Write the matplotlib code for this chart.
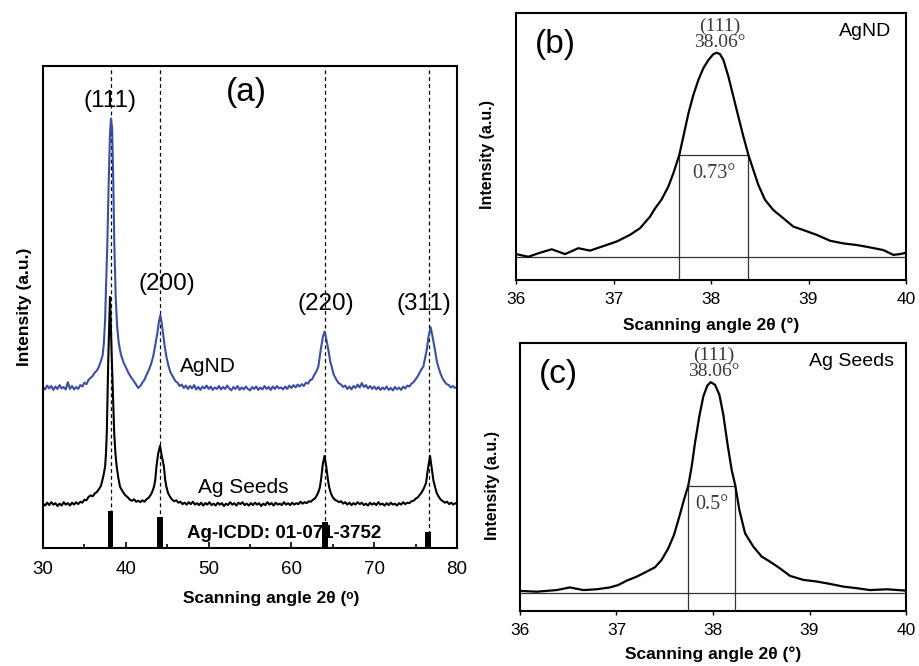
import matplotlib
matplotlib.use("Agg")
import matplotlib.pyplot as plt

plt.rcParams['font.family'] = ['Liberation Sans', 'DejaVu Sans']

# ---------------- Panel (a) data ----------------
agnd_x = [30.0, 30.25, 30.5, 30.75, 31.0, 31.25, 31.5, 31.75, 32.0, 32.25, 32.5, 32.75, 33.0, 33.25,
          33.5, 33.75, 34.0, 34.25, 34.5, 34.75, 35.0, 35.25, 35.5, 35.75, 36.0, 36.25, 36.5, 36.75,
          37.0, 37.2, 37.35, 37.5, 37.61, 37.77, 37.93, 38.09, 38.21, 38.35, 38.49, 38.61, 38.78,
          38.95, 39.15, 39.4, 39.7, 40.0, 40.3, 40.6, 40.9, 41.2, 41.5, 41.75, 42.0, 42.25, 42.5,
          42.75, 43.0, 43.3, 43.55, 43.8, 44.0, 44.17, 44.35, 44.5, 44.7, 44.9, 45.15, 45.4, 45.7,
          46.0, 46.25, 46.5, 46.75, 47.0, 47.25, 47.5, 47.75, 48.0, 48.25, 48.5, 48.75, 49.0, 49.25,
          49.5, 49.75, 50.0, 50.25, 50.5, 50.75, 51.0, 51.25, 51.5, 51.75, 52.0, 52.25, 52.5, 52.75,
          53.0, 53.25, 53.5, 53.75, 54.0, 54.25, 54.5, 54.75, 55.0, 55.25, 55.5, 55.75, 56.0, 56.25,
          56.5, 56.75, 57.0, 57.25, 57.5, 57.75, 58.0, 58.25, 58.5, 58.75, 59.0, 59.25, 59.5, 59.75,
          60.0, 60.25, 60.5, 60.75, 61.0, 61.25, 61.5, 61.75, 62.0, 62.25, 62.5, 62.75, 63.0, 63.25,
          63.54, 63.8, 64.0, 64.2, 64.46, 64.7, 64.87, 65.1, 65.4, 65.7, 66.0, 66.25, 66.5, 66.75,
          67.0, 67.25, 67.5, 67.75, 68.0, 68.25, 68.5, 68.75, 69.0, 69.25, 69.5, 69.75, 70.0, 70.25,
          70.5, 70.75, 71.0, 71.25, 71.5, 71.75, 72.0, 72.25, 72.5, 72.75, 73.0, 73.25, 73.5, 73.75,
          74.0, 74.25, 74.5, 74.75, 75.0, 75.25, 75.5, 75.75, 75.93, 76.15, 76.34, 76.55, 76.82,
          77.05, 77.34, 77.55, 77.74, 78.0, 78.25, 78.5, 78.75, 79.0, 79.25, 79.5, 79.75, 80.0]
agnd_y = [33.4, 32.9, 33.7, 33.1, 33.6, 32.8, 33.5, 33.0, 33.8, 33.1, 33.4, 32.9, 34.4, 33.0,
          33.6, 32.9, 33.4, 33.0, 33.8, 33.5, 34.3, 34.0, 34.9, 35.3, 35.7, 36.4, 36.8, 37.6,
          38.8, 40.0, 42.5, 47.3, 54.2, 63.2, 75.7, 86.0, 89.1, 87.0, 75.7, 63.2, 52.0,
          46.0, 42.5, 40.2, 38.6, 37.5, 36.4, 35.5, 34.8, 34.0, 33.2, 33.6, 34.3, 34.9, 35.9,
          36.8, 37.9, 39.7, 42.0, 44.5, 47.0, 48.3, 46.5, 44.5, 41.8, 39.7, 37.8, 36.4, 35.5,
          34.6, 34.3, 33.6, 33.9, 33.2, 33.7, 33.0, 33.6, 33.1, 33.8, 32.9, 33.4, 32.8, 33.5,
          33.1, 33.7, 33.0, 33.5, 32.8, 33.3, 33.0, 33.6, 32.9, 33.4, 33.0, 33.7, 33.1, 32.7,
          33.4, 33.0, 33.6, 32.8, 33.3, 32.9, 33.5, 33.0, 32.7, 33.4, 33.0, 33.5, 32.8, 33.3,
          32.9, 33.6, 33.0, 33.4, 32.8, 33.5, 33.0, 33.6, 33.1, 33.3, 32.9, 33.5, 33.0, 33.7,
          33.2, 33.8, 33.3, 33.9, 33.5, 34.0, 33.6, 34.3, 34.1, 34.8, 35.0, 35.9, 36.6, 37.6,
          41.1, 43.8, 44.9, 43.5, 41.1, 38.6, 37.6, 36.0, 35.0, 34.2, 33.9, 33.4, 33.7, 33.0,
          33.5, 32.9, 33.6, 33.2, 33.9, 33.3, 34.2, 33.4, 33.8, 33.1, 33.6, 33.0, 33.5, 32.9,
          33.4, 32.8, 33.3, 32.9, 33.5, 32.8, 33.2, 32.7, 33.4, 32.9, 33.3, 32.8, 33.5, 33.1,
          33.7, 33.5, 34.1, 34.4, 35.0, 35.6, 36.4, 37.2, 37.6, 39.5, 41.1, 43.8, 45.8,
          43.8, 41.1, 38.8, 37.6, 36.2, 35.2, 34.5, 34.0, 33.8, 33.3, 33.6, 33.2, 33.4]

seeds_x = [30.0, 30.25, 30.5, 30.75, 31.0, 31.25, 31.5, 31.75, 32.0, 32.25, 32.5, 32.75, 33.0, 33.25,
           33.5, 33.75, 34.0, 34.25, 34.5, 34.75, 35.0, 35.25, 35.5, 35.75, 36.0, 36.25, 36.5, 36.75,
           37.0, 37.1, 37.3, 37.5, 37.6, 37.7, 37.89, 38.09, 38.3, 38.6, 38.75, 38.9, 39.1, 39.3,
           39.6, 39.9, 40.25, 40.5, 40.75, 41.0, 41.25, 41.5, 41.75, 42.0, 42.25, 42.5, 42.75, 43.0,
           43.2, 43.4, 43.55, 43.7, 43.9, 44.13, 44.35, 44.6, 44.75, 44.9, 45.1, 45.35, 45.6, 45.85,
           46.1, 46.35, 46.6, 46.85, 47.1, 47.35, 47.6, 47.85, 48.1, 48.35, 48.6, 48.85, 49.1, 49.35,
           49.6, 49.85, 50.1, 50.35, 50.6, 50.85, 51.1, 51.35, 51.6, 51.85, 52.1, 52.35, 52.6, 52.85,
           53.1, 53.35, 53.6, 53.85, 54.1, 54.35, 54.6, 54.85, 55.1, 55.35, 55.6, 55.85, 56.1, 56.35,
           56.6, 56.85, 57.1, 57.35, 57.6, 57.85, 58.1, 58.35, 58.6, 58.85, 59.1, 59.35, 59.6, 59.85,
           60.1, 60.35, 60.6, 60.85, 61.1, 61.35, 61.6, 61.85, 62.1, 62.35, 62.6, 62.85, 63.1, 63.3,
           63.45, 63.6, 63.8, 64.0, 64.2, 64.4, 64.55, 64.75, 65.0, 65.25, 65.5, 65.75, 66.0, 66.25,
           66.5, 66.75, 67.0, 67.25, 67.5, 67.75, 68.0, 68.25, 68.5, 68.75, 69.0, 69.25, 69.5, 69.75,
           70.0, 70.25, 70.5, 70.75, 71.0, 71.25, 71.5, 71.75, 72.0, 72.25, 72.5, 72.75, 73.0, 73.25,
           73.5, 73.75, 74.0, 74.25, 74.5, 74.75, 75.0, 75.25, 75.5, 75.75, 76.0, 76.26, 76.45, 76.74,
           76.95, 77.15, 77.34, 77.55, 77.8, 78.05, 78.3, 78.55, 78.8, 79.05, 79.3, 79.55, 79.8, 80.0]
seeds_y = [9.2, 8.8, 9.4, 8.9, 9.5, 9.0, 9.3, 8.7, 9.2, 8.8, 9.5, 9.0, 9.3, 8.8,
           9.4, 9.0, 9.5, 9.1, 9.6, 9.4, 10.0, 9.9, 10.6, 10.9, 10.7, 11.3, 11.6, 12.2,
           12.9, 13.6, 15.0, 16.9, 19.5, 23.8, 39.7, 52.1, 39.7, 23.8, 19.5, 16.9, 14.5, 12.7,
           11.8, 11.0, 10.5, 10.0, 9.8, 10.1, 9.6, 9.8, 9.5, 9.9, 9.6, 10.1, 10.4, 11.0,
           11.7, 12.7, 14.0, 16.9, 19.5, 21.2, 19.0, 16.9, 14.2, 12.7, 11.4, 10.6, 10.0, 9.7,
           9.9, 9.4, 9.6, 9.1, 9.4, 9.0, 9.5, 9.1, 9.6, 9.0, 9.3, 8.9, 9.4, 8.8,
           9.3, 9.0, 9.5, 8.9, 9.2, 8.8, 9.4, 9.0, 9.3, 8.7, 9.2, 8.9, 9.5, 9.0,
           9.3, 8.8, 9.4, 9.1, 9.5, 8.9, 9.2, 8.8, 9.3, 8.9, 9.4, 9.0, 9.3, 8.7,
           9.2, 8.9, 9.5, 9.0, 9.3, 8.8, 9.4, 9.0, 9.2, 8.9, 9.5, 9.0, 9.3, 8.9,
           9.4, 9.0, 9.3, 9.1, 9.6, 9.2, 9.5, 9.3, 9.7, 9.6, 10.0, 10.3, 11.0, 11.8,
           12.7, 14.5, 17.5, 19.1, 17.0, 14.3, 12.7, 11.4, 10.5, 10.0, 9.8, 9.5, 9.7, 9.2,
           9.5, 9.0, 9.4, 8.9, 9.3, 9.0, 9.5, 9.1, 9.4, 8.9, 9.2, 8.8, 9.4, 9.0,
           9.3, 8.9, 9.5, 9.0, 9.2, 8.8, 9.3, 8.9, 9.4, 9.0, 9.2, 8.8, 9.3, 9.0,
           9.5, 9.1, 9.4, 9.3, 9.7, 9.8, 10.2, 10.5, 11.0, 11.6, 12.4, 13.5, 16.0, 19.1,
           16.5, 14.0, 12.7, 11.4, 10.6, 10.0, 9.7, 9.4, 9.6, 9.1, 9.4, 9.0, 9.3, 9.1]

ref_pos = [38.15, 44.1, 64.02, 76.48]
ref_int = [7.7, 6.5, 5.3, 3.3]
peak_lines = [38.2, 44.13, 64.02, 76.58]
hkl_labels = ['(111)', '(200)', '(220)', '(311)']
hkl_x = [38.1, 44.9, 64.2, 76.0]
hkl_y = [92.8, 54.8, 50.6, 50.6]

# ---------------- Panel (b) data ----------------
b_x = [36.000, 36.126, 36.246, 36.366, 36.503, 36.639, 36.759, 36.896, 37.032, 37.169, 37.272,
       37.374, 37.426, 37.494, 37.562, 37.614, 37.675, 37.716, 37.768, 37.819, 37.870, 37.921,
       37.973, 38.024, 38.058, 38.092, 38.127, 38.178, 38.229, 38.280, 38.332, 38.383, 38.434,
       38.485, 38.554, 38.639, 38.742, 38.844, 38.947, 39.084, 39.221, 39.357, 39.494, 39.631,
       39.768, 39.870, 39.938, 40.000]
b_y = [9.7, 8.7, 10.2, 11.5, 9.7, 11.9, 11.0, 12.7, 14.4, 16.9, 19.4,
       23.7, 26.8, 30.2, 35.0, 40.0, 46.9, 53.7, 62.4, 69.3, 74.9, 79.3,
       82.4, 84.6, 85.1, 84.6, 82.4, 76.2, 68.7, 61.2, 53.7, 46.9, 41.2,
       35.6, 30.0, 26.2, 23.1, 20.0, 18.7, 16.9, 14.7, 13.7, 13.1, 12.2,
       11.2, 9.4, 9.7, 10.2]
b_base = 8.7
b_half = 46.9
b_fwhm = [37.675, 38.383]

# ---------------- Panel (c) data ----------------
c_x = [36.000, 36.173, 36.380, 36.518, 36.656, 36.794, 36.933, 37.019, 37.105, 37.209, 37.313,
       37.399, 37.468, 37.537, 37.596, 37.651, 37.699, 37.744, 37.779, 37.813, 37.858, 37.900,
       37.941, 37.976, 38.021, 38.066, 38.107, 38.149, 38.193, 38.231, 38.273, 38.332, 38.418,
       38.504, 38.591, 38.694, 38.798, 38.936, 39.074, 39.212, 39.351, 39.489, 39.627, 39.800,
       40.000]
c_y = [7.5, 7.2, 7.8, 8.8, 7.8, 8.1, 8.8, 9.7, 11.3, 12.8, 14.7,
       16.3, 19.1, 23.4, 28.4, 35.2, 41.5, 46.8, 53.9, 62.6, 72.6, 80.1,
       84.1, 85.4, 84.4, 80.7, 73.2, 62.6, 52.7, 46.8, 37.7, 29.0, 24.0,
       20.3, 18.4, 15.9, 13.1, 11.6, 11.0, 10.1, 9.1, 8.5, 7.8, 8.1,
       7.6]
c_base = 6.85
c_half = 46.8
c_fwhm = [37.744, 38.231]

blue = '#3a4ea6'
serif = ['Liberation Serif', 'DejaVu Serif']
txtgray = '#3a3a3a'

fig = plt.figure(figsize=(9.19, 6.66), dpi=100)

# ---------------- Panel (a) ----------------
axa = fig.add_axes([0.0468, 0.1772, 0.4505, 0.7237])
for xv in peak_lines:
    axa.axvline(xv, color='black', lw=0.9, ls=(0, (3, 2.5)), zorder=1)
axa.plot(agnd_x, agnd_y, color=blue, lw=1.5, zorder=2)
axa.plot(seeds_x, seeds_y, color='black', lw=1.5, zorder=3)
axa.bar(ref_pos, ref_int, width=0.7, color='black', zorder=5)
axa.set_xlim(30, 80)
axa.set_ylim(0, 100)
axa.set_yticks([])
axa.set_xticks([30, 40, 50, 60, 70, 80])
axa.set_xticks([35, 45, 55, 65, 75], minor=True)
axa.tick_params(axis='x', which='major', direction='in', length=4, width=1.2, labelsize=13.5, pad=9.5)
axa.tick_params(axis='x', which='minor', direction='in', length=3, width=1.2)
for s in axa.spines.values():
    s.set_linewidth(1.5)
for lab, xx, yy in zip(hkl_labels, hkl_x, hkl_y):
    axa.text(xx, yy, lab, fontsize=17.5, ha='center', va='center')
axa.text(54.6, 94.6, '(a)', fontsize=24, ha='center', va='center')
axa.text(49.9, 37.6, 'AgND', fontsize=15, ha='center', va='center')
axa.text(54.2, 12.5, 'Ag Seeds', fontsize=15, ha='center', va='center')
axa.text(59.1, 3.05, 'Ag-ICDD: 01-071-3752', fontsize=13.5, fontweight='bold',
         ha='center', va='center', zorder=4)
axa.set_xlabel('Scanning angle 2θ (ᵒ)', fontsize=12.5, fontweight='bold')
axa.xaxis.set_label_coords(0.552, -0.089)
axa.set_ylabel('Intensity (a.u.)', fontsize=12.5, fontweight='bold')
axa.yaxis.set_label_coords(-0.027, 0.5)


def fwhm_panel(ax, x, y, base, half, fw, letter, name, name_x, peak_x, fw_text, ylab):
    ax.plot(x, y, color='black', lw=1.6, zorder=3)
    ax.axhline(base, color='#333333', lw=0.9, zorder=2)
    ax.plot([fw[0], fw[0]], [0, half], color='#333333', lw=0.9, zorder=2)
    ax.plot([fw[1], fw[1]], [0, half], color='#333333', lw=0.9, zorder=2)
    ax.plot([fw[0], fw[1]], [half, half], color='#333333', lw=0.9, zorder=2)
    ax.set_xlim(36, 40)
    ax.set_ylim(0, 100)
    ax.set_yticks([])
    ax.set_xticks([36, 37, 38, 39, 40])
    ax.tick_params(axis='x', direction='out', length=3, width=1.0, labelsize=12.5, pad=6)
    for s in ax.spines.values():
        s.set_linewidth(1.5)
    ax.text(36.4, 88.3, letter, fontsize=24, ha='center', va='center')
    ax.text(name_x, 93.0, name, fontsize=14, ha='center', va='center')
    ax.text(peak_x, ylab, '(111)\n38.06°', fontsize=14, family=serif, color=txtgray,
            ha='center', va='center', multialignment='center', linespacing=0.95)
    ax.text((fw[0] + fw[1]) / 2, 39.8, fw_text, fontsize=14.5, family=serif, color=txtgray,
            ha='center', va='center')
    ax.set_xlabel('Scanning angle 2θ (°)', fontsize=12.5, fontweight='bold')
    ax.set_ylabel('Intensity (a.u.)', fontsize=11.5, fontweight='bold')


axb = fig.add_axes([0.5615, 0.5796, 0.4244, 0.4009])
fwhm_panel(axb, b_x, b_y, b_base, b_half, b_fwhm, '(b)', 'AgND', 39.58, 38.09, '0.73°', 92.0)
axb.xaxis.set_label_coords(0.5, -0.14)
axb.yaxis.set_label_coords(-0.054, 0.47)

axc = fig.add_axes([0.5658, 0.0826, 0.4201, 0.4024])
fwhm_panel(axc, c_x, c_y, c_base, c_half, c_fwhm, '(c)', 'Ag Seeds', 39.44, 38.01, '0.5°', 92.3)
axc.xaxis.set_label_coords(0.5, -0.133)
axc.yaxis.set_label_coords(-0.052, 0.47)

fig.savefig('out.png', dpi=100)
